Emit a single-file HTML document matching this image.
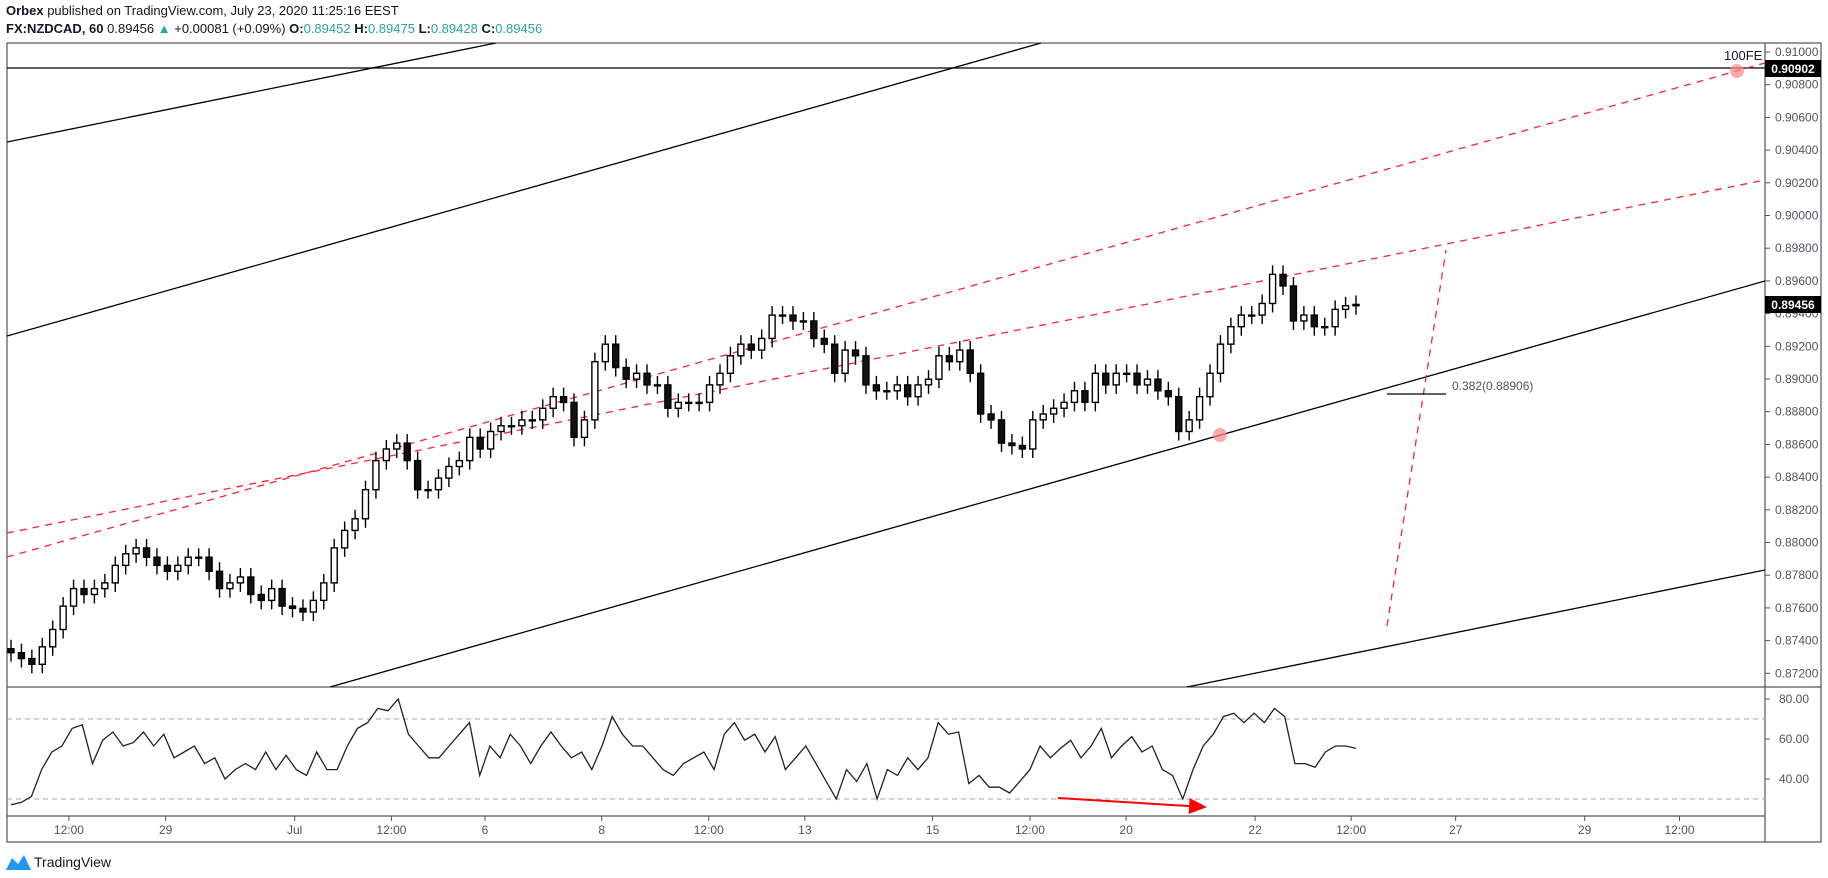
<!DOCTYPE html>
<html><head><meta charset="utf-8"><style>
html,body{margin:0;padding:0;background:#fff;}
svg{display:block;font-family:"Liberation Sans",sans-serif;}
</style></head><body>
<svg id="chart" width="1828" height="878" viewBox="0 0 1828 878" xmlns="http://www.w3.org/2000/svg">
<text x="6" y="15" font-size="13" fill="#131722"><tspan font-weight="bold">Orbex</tspan> published on TradingView.com, July 23, 2020 11:25:16 EEST</text>
<text x="6" y="33" font-size="13" fill="#131722"><tspan font-weight="bold">FX:NZDCAD, 60</tspan> 0.89456 <tspan fill="#26a69a">▲</tspan> +0.00081 (+0.09%) <tspan font-weight="bold">O:</tspan><tspan fill="#26a69a">0.89452</tspan> <tspan font-weight="bold">H:</tspan><tspan fill="#26a69a">0.89475</tspan> <tspan font-weight="bold">L:</tspan><tspan fill="#26a69a">0.89428</tspan> <tspan font-weight="bold">C:</tspan><tspan fill="#26a69a">0.89456</tspan></text>
<rect x="7" y="43" width="1814" height="799" fill="none" stroke="#50535e" stroke-width="1.2"/>
<line x1="1765" y1="43" x2="1765" y2="842" stroke="#50535e" stroke-width="1.2"/>
<line x1="7" y1="687" x2="1821" y2="687" stroke="#50535e" stroke-width="1.2"/>
<line x1="7" y1="816" x2="1765" y2="816" stroke="#50535e" stroke-width="1.2"/>
<defs><clipPath id="mainClip"><rect x="7" y="43" width="1758" height="644"/></clipPath>
<clipPath id="rsiClip"><rect x="7" y="687" width="1758" height="129"/></clipPath>
<marker id="arr" markerWidth="10" markerHeight="10" refX="8" refY="4" orient="auto"><path d="M0,0 L9,4 L0,8 Z" fill="#f00"/></marker></defs>
<g id="drawings" clip-path="url(#mainClip)">
<line x1="7" y1="142" x2="496" y2="43" stroke="#000" stroke-width="1.3"/>
<line x1="7" y1="336" x2="1041" y2="43" stroke="#000" stroke-width="1.3"/>
<line x1="7" y1="68" x2="1765" y2="68" stroke="#000" stroke-width="1.3"/>
<line x1="330" y1="687" x2="1765" y2="281" stroke="#000" stroke-width="1.3"/>
<line x1="1187" y1="687" x2="1765" y2="570" stroke="#000" stroke-width="1.3"/>
<line x1="7" y1="557" x2="1765" y2="63" stroke="#f23" stroke-width="1.3" stroke-dasharray="7,6"/>
<line x1="7" y1="533" x2="1765" y2="180" stroke="#f23" stroke-width="1.3" stroke-dasharray="7,6"/>
<line x1="1387" y1="626" x2="1446" y2="250" stroke="#f23" stroke-width="1.3" stroke-dasharray="7,6"/>
<line x1="1387" y1="394" x2="1446" y2="394" stroke="#000" stroke-width="1.2"/>
<text x="1452" y="390" font-size="12" fill="#555">0.382(0.88906)</text>
<circle cx="1737" cy="71" r="7" fill="#f88" fill-opacity="0.7"/>
<text x="1724" y="60" font-size="13" fill="#131722">100FE</text>
<circle cx="1220" cy="435" r="7" fill="#f88" fill-opacity="0.7"/>
</g>
<g id="candles" clip-path="url(#mainClip)"></g>
<g id="priceAxis"></g>
<g id="rsi" clip-path="url(#rsiClip)">
<line x1="7" y1="719" x2="1765" y2="719" stroke="#aaa" stroke-dasharray="5,4"/>
<line x1="7" y1="799" x2="1765" y2="799" stroke="#aaa" stroke-dasharray="5,4"/>
<line x1="1058" y1="798" x2="1205" y2="807" stroke="#f00" stroke-width="2" marker-end="url(#arr)"/>
</g>
<g id="rsiAxis"></g>
<g id="timeAxis"></g>
<rect x="1765" y="60" width="56" height="17" fill="#000"/>
<text x="1793" y="73" font-size="12" font-weight="bold" fill="#fff" text-anchor="middle">0.90902</text>
<rect x="1765" y="296" width="56" height="17" fill="#000"/>
<text x="1793" y="309" font-size="12" font-weight="bold" fill="#fff" text-anchor="middle">0.89456</text>
<g>
<path d="M6 870 L12 858 L18 864 L24 855 L31 870 Z" fill="#2196f3"/>
<text x="34" y="867" font-size="14" fill="#131722">TradingView</text>
</g>
</svg>
<script>
const closes=[.87326,.87290,.87255,.87362,.87468,.87611,.87718,.87682,.87718,.87753,.87860,.87931,.87967,.87910,.87860,.87824,.87860,.87910,.87910,.87824,.87718,.87753,.87789,.87682,.87646,.87718,.87611,.87597,.87575,.87646,.87753,.87967,.88074,.88145,.88323,.88501,.88572,.88608,.88501,.88323,.88323,.88394,.88465,.88501,.88643,.88572,.88679,.88714,.88714,.88750,.88750,.88821,.88892,.88857,.88643,.88750,.89106,.89213,.89070,.88999,.89035,.88964,.88964,.88821,.88857,.88857,.88857,.88964,.89035,.89142,.89213,.89177,.89248,.89391,.89391,.89355,.89355,.89248,.89213,.89035,.89177,.89142,.88964,.88928,.88928,.88964,.88892,.88964,.88999,.89142,.89106,.89177,.89035,.88786,.88750,.88608,.88593,.88572,.88750,.88786,.88821,.88857,.88928,.88857,.89035,.88964,.89035,.89035,.88964,.88999,.88928,.88892,.88679,.88750,.88892,.89035,.89213,.89320,.89391,.89391,.89462,.89640,.89569,.89355,.89391,.89320,.89320,.89426,.89448,.89456];
const firstOpen=0.87350;
const rsiValues=[27.1,28.3,31.2,44.7,53.5,56.5,65.3,67.1,47.7,59.4,63.5,56.5,58.2,63.5,56.5,62.4,50.6,53.5,56.5,47.7,50.6,40.0,44.7,47.7,44.7,53.5,44.7,51.8,44.7,41.8,53.5,44.7,44.7,56.5,65.3,68.2,75.3,74.1,80.0,62.4,56.5,50.6,50.6,56.5,62.4,68.2,41.8,56.5,50.6,62.4,56.5,47.7,56.5,63.5,56.5,50.6,53.5,44.7,56.5,71.2,62.4,56.5,56.5,50.6,44.7,41.8,47.7,50.6,53.5,44.7,62.4,68.2,59.4,62.4,53.5,61.2,44.7,50.6,56.5,47.7,38.8,30.0,44.7,38.8,47.7,30.0,44.7,41.8,50.6,44.7,50.6,68.2,62.4,63.5,37.7,41.8,35.9,35.9,33.0,38.8,44.7,56.5,50.6,55.3,59.4,50.6,56.5,65.3,50.6,56.5,61.2,53.5,56.5,44.7,41.8,30.0,44.7,56.5,62.4,71.2,72.9,68.2,72.9,68.2,75.3,71.2,47.7,47.7,45.9,53.5,56.5,56.5,55.3];
const priceTicks=["0.91000","0.90800","0.90600","0.90400","0.90200","0.90000","0.89800","0.89600","0.89400","0.89200","0.89000","0.88800","0.88600","0.88400","0.88200","0.88000","0.87800","0.87600","0.87400","0.87200"];
const rsiTicks=["80.00","60.00","40.00"];
const timeLabels=["12:00","29","Jul","12:00","6","8","12:00","13","15","12:00","20","22","12:00","27","29","12:00"];
const timeSlots=[0.96,2.46,4.46,5.96,7.41,9.22,10.88,12.37,14.35,15.86,17.35,19.35,20.84,22.46,24.46,25.93];
const NS="http://www.w3.org/2000/svg";
const X0=7,X1=1356;
function yP(p){return 52+(0.91-p)/0.002*32.7;}
function xI(i,n){return X0+4+i*(X1-X0-4)/(n-1);}
function yR(v){return 719+(70-v)*2.0;}
function xDay(d){return 7+d*64.5;}
function mk(tag,attrs,parent){const e=document.createElementNS(NS,tag);for(const k in attrs)e.setAttribute(k,attrs[k]);parent.appendChild(e);return e;}
const cg=document.getElementById('candles');
const n=closes.length;
for(let i=0;i<n;i++){
  const o=i?closes[i-1]:firstOpen,c=closes[i];
  const x=xI(i,n);
  const yt=yP(Math.max(o,c)),yb=yP(Math.min(o,c));
  const w=mk('line',{x1:x,x2:x,y1:yt-9,y2:yb+9,stroke:'#000','stroke-width':1.4},cg);
  
  
  const b=mk('rect',{x:x-3,y:yt,width:6,height:Math.max(1,yb-yt),fill:c<o?'#111':'#fff',stroke:'#000','stroke-width':1.4},cg);
  
  
}
const pa=document.getElementById('priceAxis');
priceTicks.forEach(t=>{const y=yP(parseFloat(t));
  const tk=mk('line',{x1:1765,x2:1770,y1:y,y2:y,stroke:'#50535e'},pa);
  
  
  const tx=mk('text',{x:1775,y:y+4,'font-size':12,fill:'#50535e'},pa);tx.textContent=t;
  
  
});
const rg=document.getElementById('rsi');
let d='';rsiValues.forEach((v,i)=>{d+=(i?'L':'M')+xI(i,rsiValues.length).toFixed(1)+','+yR(v).toFixed(1);});
const rl=mk('path',{d:d,fill:'none',stroke:'#222','stroke-width':1.3},rg);


const ra=document.getElementById('rsiAxis');
rsiTicks.forEach(t=>{const y=yR(parseFloat(t));
  const tk=mk('line',{x1:1765,x2:1770,y1:y,y2:y,stroke:'#50535e'},ra);
  
  
  const tx=mk('text',{x:1779,y:y+4,'font-size':12,fill:'#50535e'},ra);tx.textContent=t;
  
  
});
const ta=document.getElementById('timeAxis');
timeLabels.forEach((t,i)=>{const x=xDay(timeSlots[i]);
  const tk=mk('line',{x1:x,x2:x,y1:816,y2:821,stroke:'#50535e'},ta);
  
  
  const tx=mk('text',{x:x,y:834,'font-size':12,fill:'#50535e','text-anchor':'middle'},ta);tx.textContent=t;
  
  
});
</script>
</body></html>
